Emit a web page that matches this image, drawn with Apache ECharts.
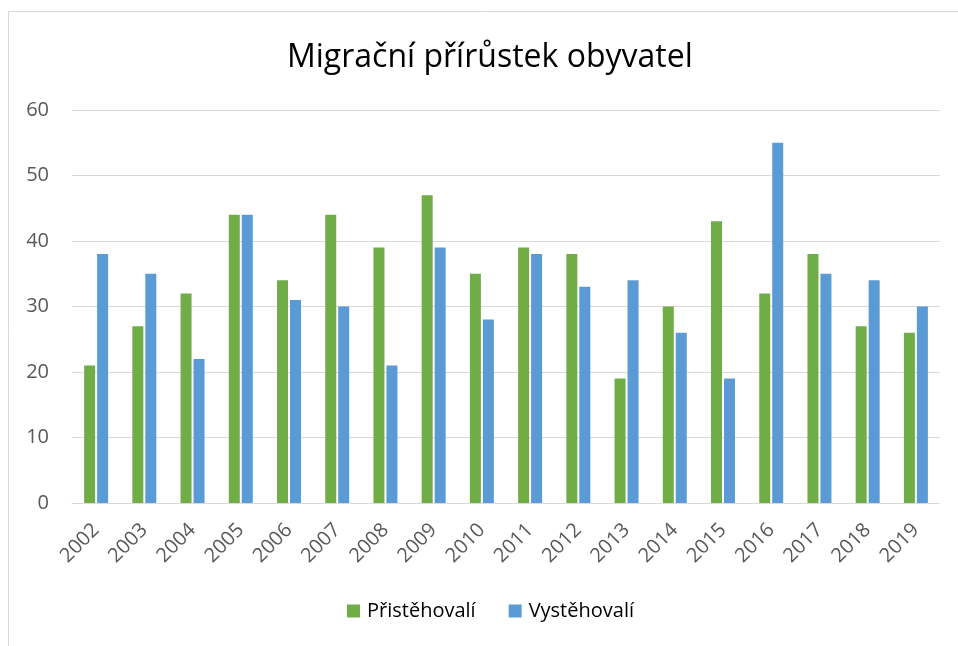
<!DOCTYPE html>
<html>
<head>
<meta charset="utf-8">
<script src="https://cdn.jsdelivr.net/npm/echarts@6/dist/echarts.min.js"></script>
<style>
  html, body { margin: 0; padding: 0; background: #fff; }
  #chart { width: 958px; height: 646px; }
</style>
</head>
<body>
<div id="chart"></div>
<script>
// roky
const years = ['2002', '2003', '2004', '2005', '2006', '2007', '2008', '2009', '2010',
  '2011', '2012', '2013', '2014', '2015', '2016', '2017', '2018', '2019'];
// Přistěhovalí
const immigrants = [21, 27, 32, 44, 34, 44, 39, 47, 35, 39, 38, 19, 30, 43, 32, 38, 27, 26];
// Vystěhovalí
const emigrants = [38, 35, 22, 44, 31, 30, 21, 39, 28, 38, 33, 34, 26, 19, 55, 35, 34, 30];
const yTicks = [0, 10, 20, 30, 40, 50, 60];

const fontFamily = '"Open Sans", "Noto Sans", sans-serif';
const chart = echarts.init(document.getElementById('chart'));

chart.setOption({
  animation: false,
  textStyle: { fontFamily: fontFamily },
  title: {
    text: 'Migrační přírůstek obyvatel',
    left: 282,
    top: 37,
    textStyle: { fontSize: 32, fontWeight: 'normal', color: '#000', fontFamily: fontFamily }
  },
  graphic: [{
    type: 'rect',
    silent: true,
    shape: { x: 8.5, y: 11.5, width: 1000, height: 1000 },
    style: { fill: 'none', stroke: '#d9d9d9', lineWidth: 1 }
  }],
  legend: {
    bottom: 20,
    left: 342,
    itemWidth: 13,
    itemHeight: 13,
    itemGap: 33,
    icon: 'rect',
    textStyle: { fontSize: 20, color: '#000', fontFamily: fontFamily, padding: [0, 0, 0, 2] },
    data: ['Přistěhovalí', 'Vystěhovalí']
  },
  grid: { left: 72, right: 18, top: 110, bottom: 143 },
  xAxis: {
    type: 'category',
    data: years,
    axisTick: { show: false },
    axisLine: { lineStyle: { color: '#d9d9d9', width: 1 } },
    axisLabel: { rotate: 45, fontSize: 20, color: '#595959', margin: 24, interval: 0, fontFamily: fontFamily }
  },
  yAxis: {
    type: 'value',
    min: yTicks[0],
    max: yTicks[yTicks.length - 1],
    interval: 10,
    axisLine: { show: false },
    axisTick: { show: false },
    splitLine: { lineStyle: { color: '#d9d9d9', width: 1 } },
    axisLabel: { fontSize: 20, color: '#595959', margin: 23, fontFamily: fontFamily }
  },
  series: [
    {
      name: 'Přistěhovalí',
      type: 'bar',
      data: immigrants,
      barWidth: 11,
      barGap: '18%',
      itemStyle: { color: '#70ad47' }
    },
    {
      name: 'Vystěhovalí',
      type: 'bar',
      data: emigrants,
      barWidth: 11,
      itemStyle: { color: '#5b9bd5' }
    }
  ]
});

window.addEventListener('resize', () => chart.resize());
</script>
</body>
</html>
